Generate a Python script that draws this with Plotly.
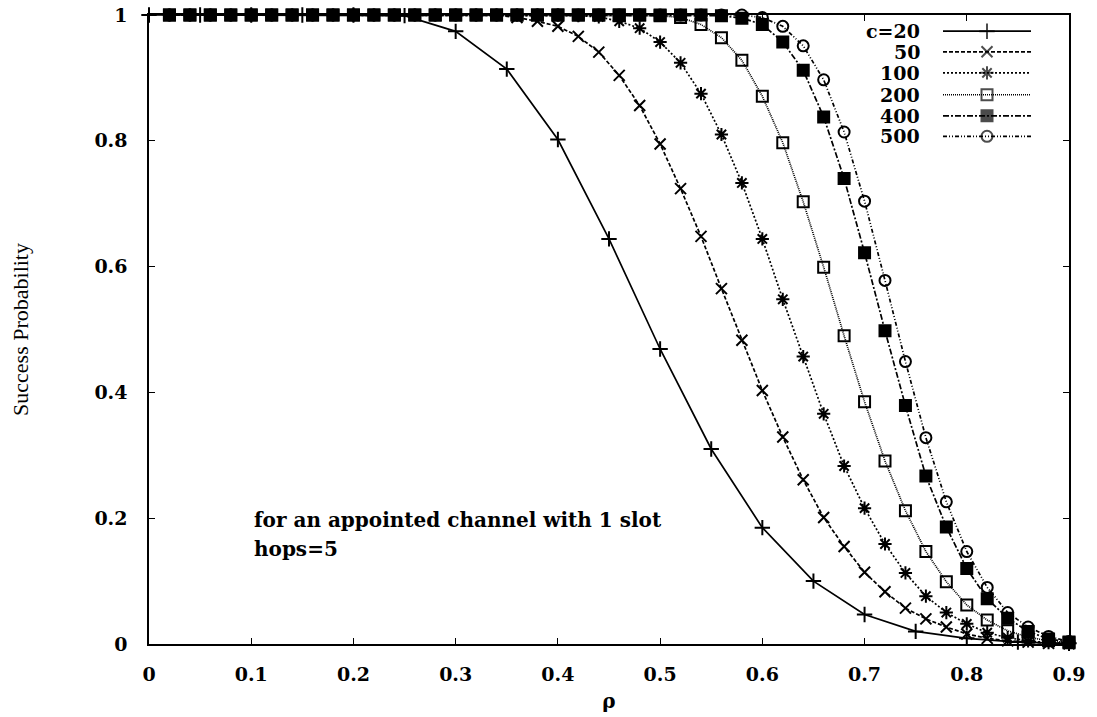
import plotly.graph_objects as go

# ---------------- data ----------------
rho_c20 = [0.00, 0.05, 0.10, 0.15, 0.20, 0.25, 0.30, 0.35, 0.40, 0.45, 0.50, 0.55,
           0.60, 0.65, 0.70, 0.75, 0.80, 0.85, 0.90]
p_c20 = [1.0, 1.0, 1.0, 1.0, 1.0, 0.999, 0.974, 0.914, 0.802, 0.644, 0.469, 0.310,
         0.185, 0.100, 0.047, 0.020, 0.009, 0.003, 0.001]

rho_fine = [round(0.02 * i, 2) for i in range(1, 46)]  # 0.02 .. 0.90

p_c50 = [1.0] * 17 + [0.996, 0.990, 0.982, 0.966, 0.941, 0.904, 0.856, 0.795, 0.724,
                      0.648, 0.565, 0.483, 0.403, 0.329, 0.261, 0.201, 0.155, 0.114,
                      0.083, 0.057, 0.040, 0.027, 0.016, 0.009, 0.005, 0.003, 0.001, 0.0005]
p_c100 = [1.0] * 20 + [0.999, 0.997, 0.990, 0.979, 0.957, 0.924, 0.875, 0.810, 0.733,
                       0.644, 0.548, 0.457, 0.366, 0.283, 0.216, 0.159, 0.113, 0.076,
                       0.050, 0.032, 0.018, 0.010, 0.005, 0.002, 0.001]
p_c200 = [1.0] * 24 + [0.999, 0.996, 0.985, 0.964, 0.928, 0.871, 0.797, 0.703, 0.599,
                       0.490, 0.385, 0.291, 0.212, 0.147, 0.099, 0.062, 0.038, 0.021,
                       0.011, 0.005, 0.002]
p_c400 = [1.0] * 27 + [0.999, 0.995, 0.985, 0.957, 0.912, 0.838, 0.740, 0.622, 0.498,
                       0.379, 0.267, 0.186, 0.120, 0.072, 0.041, 0.020, 0.008, 0.003]
p_c500 = [1.0] * 29 + [0.996, 0.982, 0.951, 0.897, 0.814, 0.704, 0.578, 0.449, 0.328,
                       0.226, 0.147, 0.090, 0.050, 0.027, 0.012, 0.004]

legend_labels = ["c=20", "50", "100", "200", "400", "500"]
x_ticks = [0, 0.1, 0.2, 0.3, 0.4, 0.5, 0.6, 0.7, 0.8, 0.9]
x_tick_text = ["0", "0.1", "0.2", "0.3", "0.4", "0.5", "0.6", "0.7", "0.8", "0.9"]
y_ticks = [0, 0.2, 0.4, 0.6, 0.8, 1]
y_tick_text = ["0", "0.2", "0.4", "0.6", "0.8", "1"]

# ---------------- styles ----------------
series = [
    (rho_c20, p_c20, "solid", "cross-thin-open", 11),
    (rho_fine, p_c50, "4px,2px", "x-thin-open", 11),
    (rho_fine, p_c100, "2px,2px", "asterisk-open", 11),
    (rho_fine, p_c200, "1px,1px", "square-open", 11),
    (rho_fine, p_c400, "6px,2px,2px,2px", "square", 11),
    (rho_fine, p_c500, "4px,2px,1px,2px,1px,2px", "circle-open", 11),
]

TICKFONT = dict(family="DejaVu Serif", size=19, color="black", weight="bold")
TEXTFONT = dict(family="DejaVu Serif", size=20, color="black", weight="bold")
LEGFONT = dict(family="DejaVu Serif", size=19, color="black", weight="bold")

fig = go.Figure()
for (xs, ys, dash, sym, sz) in series:
    fig.add_trace(go.Scatter(
        x=xs, y=ys, mode="lines+markers", showlegend=False, cliponaxis=False,
        line=dict(color="black", width=1.7, dash=dash),
        marker=dict(symbol=sym, size=sz, color="black",
                    line=dict(color="black", width=2)),
    ))

# legend samples drawn in an invisible overlay subplot (pixel-like coordinates)
LX0, LX1, LTXT = 943, 1031, 922
row_y = [31.7, 52.3, 73.3, 95.2, 116.2, 136.7]
for i, (xs, ys, dash, sym, sz) in enumerate(series):
    fig.add_trace(go.Scatter(
        x=[LX0, (LX0 + LX1) / 2, LX1], y=[row_y[i]] * 3, mode="lines+markers",
        xaxis="x2", yaxis="y2", showlegend=False, cliponaxis=False,
        line=dict(color="black", width=1.7, dash=dash),
        marker=dict(symbol=sym, size=[0, sz, 0], color="black",
                    line=dict(color="black", width=2)),
    ))
    fig.add_annotation(x=LTXT, y=row_y[i], xref="x2", yref="y2", text=legend_labels[i],
                       showarrow=False, xanchor="right", yanchor="middle", font=LEGFONT)

fig.add_annotation(x=252, y=520, xref="x2", yref="y2",
                   text="for an appointed channel with 1 slot", showarrow=False,
                   xanchor="left", yanchor="middle", font=TEXTFONT)
fig.add_annotation(x=252, y=549, xref="x2", yref="y2", text="hops=5", showarrow=False,
                   xanchor="left", yanchor="middle", font=TEXTFONT)

axis_common = dict(showline=True, linecolor="black", linewidth=1.5, mirror="ticks",
                   ticks="inside", ticklen=6, tickwidth=1.2, tickcolor="black",
                   showgrid=False, zeroline=False, tickfont=TICKFONT, automargin=False)

fig.update_layout(
    width=1097, height=717,
    margin=dict(l=149, r=28, t=15, b=73, autoexpand=False),
    plot_bgcolor="white", paper_bgcolor="white",
    xaxis=dict(range=[0, 0.9], tickvals=x_ticks, ticktext=x_tick_text,
               ticklabelstandoff=12,
               title=dict(text="ρ", font=TEXTFONT, standoff=10), **axis_common),
    yaxis=dict(range=[0, 1], tickvals=y_ticks, ticktext=y_tick_text,
               ticklabelstandoff=16,
               title=dict(text="Success Probability",
                          font=dict(family="Liberation Serif", size=22, color="black"),
                          standoff=60), **axis_common),
    xaxis2=dict(domain=[0, 1], range=[149, 1069], visible=False, anchor="y2",
                overlaying="x"),
    yaxis2=dict(domain=[0, 1], range=[644, 15.5], visible=False, anchor="x2",
                overlaying="y"),
)

fig.write_html("out.html")
